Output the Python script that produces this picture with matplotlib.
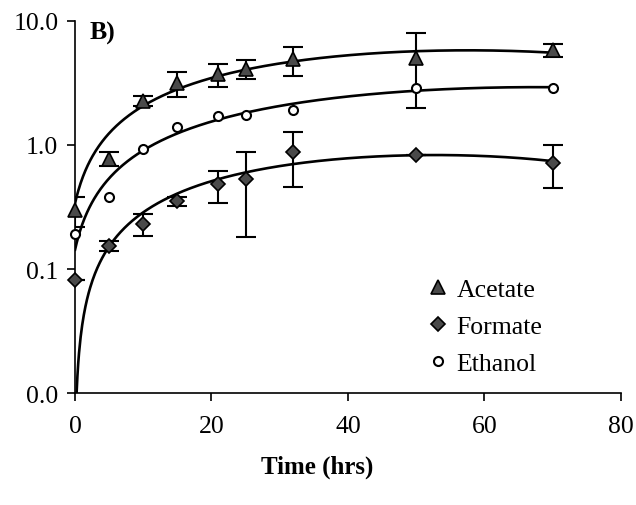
import matplotlib
matplotlib.use("Agg")
import matplotlib.pyplot as plt
import numpy as np
from matplotlib.ticker import FixedLocator, FuncFormatter, NullLocator

times = [0, 5, 10, 15, 21, 25, 32, 50, 70]

acetate = [0.30, 0.77, 2.26, 3.15, 3.7, 4.1, 4.9, 5.0, 5.8]
acetate_err = [0.08, 0.10, 0.20, 0.70, 0.80, 0.70, 1.30, 3.0, 0.70]

formate = [0.081, 0.153, 0.23, 0.35, 0.48, 0.53, 0.87, 0.83, 0.72]
formate_err = [0.0, 0.014, 0.047, 0.027, 0.14, 0.35, 0.41, 0.0, 0.27]

ethanol = [0.19, 0.38, 0.93, 1.40, 1.71, 1.75, 1.91, 2.88, 2.88]

plt.rcParams["font.family"] = ["Liberation Serif", "DejaVu Serif"]


def trend(ax, y):
    # second order polynomial trendline, like the spreadsheet one
    coef = np.polyfit(times, y, 2)
    tt = np.linspace(0, max(times), 600)
    yy = np.polyval(coef, tt)
    yy = np.where(yy > 0, yy, np.nan)
    ax.plot(tt, yy, color="black", linewidth=1.9, zorder=2)


def main() -> None:
    fig = plt.figure(figsize=(6.36, 5.06), dpi=100)
    ax = fig.add_axes([0.118, 0.221, 0.858, 0.736])

    for y in (acetate, formate, ethanol):
        trend(ax, y)

    ax.errorbar(times, acetate, yerr=acetate_err, fmt="none", ecolor="black",
                elinewidth=1.5, capsize=7, capthick=1.5, zorder=3)
    ax.errorbar(times, formate, yerr=formate_err, fmt="none", ecolor="black",
                elinewidth=1.5, capsize=7, capthick=1.5, zorder=3)

    ax.plot(times, acetate, linestyle="none", marker="^", markersize=10,
            markerfacecolor="#4a4a4a", markeredgecolor="black",
            markeredgewidth=1.2, label="Acetate", zorder=4, clip_on=False)
    ax.plot(times, formate, linestyle="none", marker="D", markersize=7.5,
            markerfacecolor="#4a4a4a", markeredgecolor="black",
            markeredgewidth=1.2, label="Formate", zorder=4, clip_on=False)
    ax.plot(times, ethanol, linestyle="none", marker="o", markersize=6.5,
            markerfacecolor="white", markeredgecolor="black",
            markeredgewidth=1.5, label="Ethanol", zorder=4, clip_on=False)

    ax.set_yscale("log")
    ax.set_ylim(0.01, 10)
    ax.set_xlim(0, 80)
    ax.yaxis.set_major_locator(FixedLocator([0.01, 0.1, 1, 10]))
    ax.yaxis.set_minor_locator(NullLocator())
    ax.yaxis.set_major_formatter(FuncFormatter(lambda v, _: f"{v:.1f}"))
    ax.set_xticks([0, 20, 40, 60, 80])

    for side in ("top", "right"):
        ax.spines[side].set_visible(False)
    for side in ("left", "bottom"):
        ax.spines[side].set_linewidth(1.2)
    ax.tick_params(direction="out", length=6, width=1.2, labelsize=18.5,
                   pad=6)
    ax.tick_params(axis="x", pad=10)

    ax.set_xlabel("Time (hrs)", fontsize=18, fontweight="bold")
    ax.xaxis.set_label_coords(0.443, -0.165)
    ax.text(0.027, 1.0, "B)", transform=ax.transAxes, fontsize=18.5,
            fontweight="bold", va="top", ha="left")

    ax.legend(loc="upper left", bbox_to_anchor=(0.614, 0.357), frameon=False,
              fontsize=18.5, handlelength=0.8, handletextpad=0.3,
              labelspacing=0.55, borderpad=0.2)

    fig.savefig("out.png", dpi=100)
    plt.close(fig)


if __name__ == "__main__":
    main()
